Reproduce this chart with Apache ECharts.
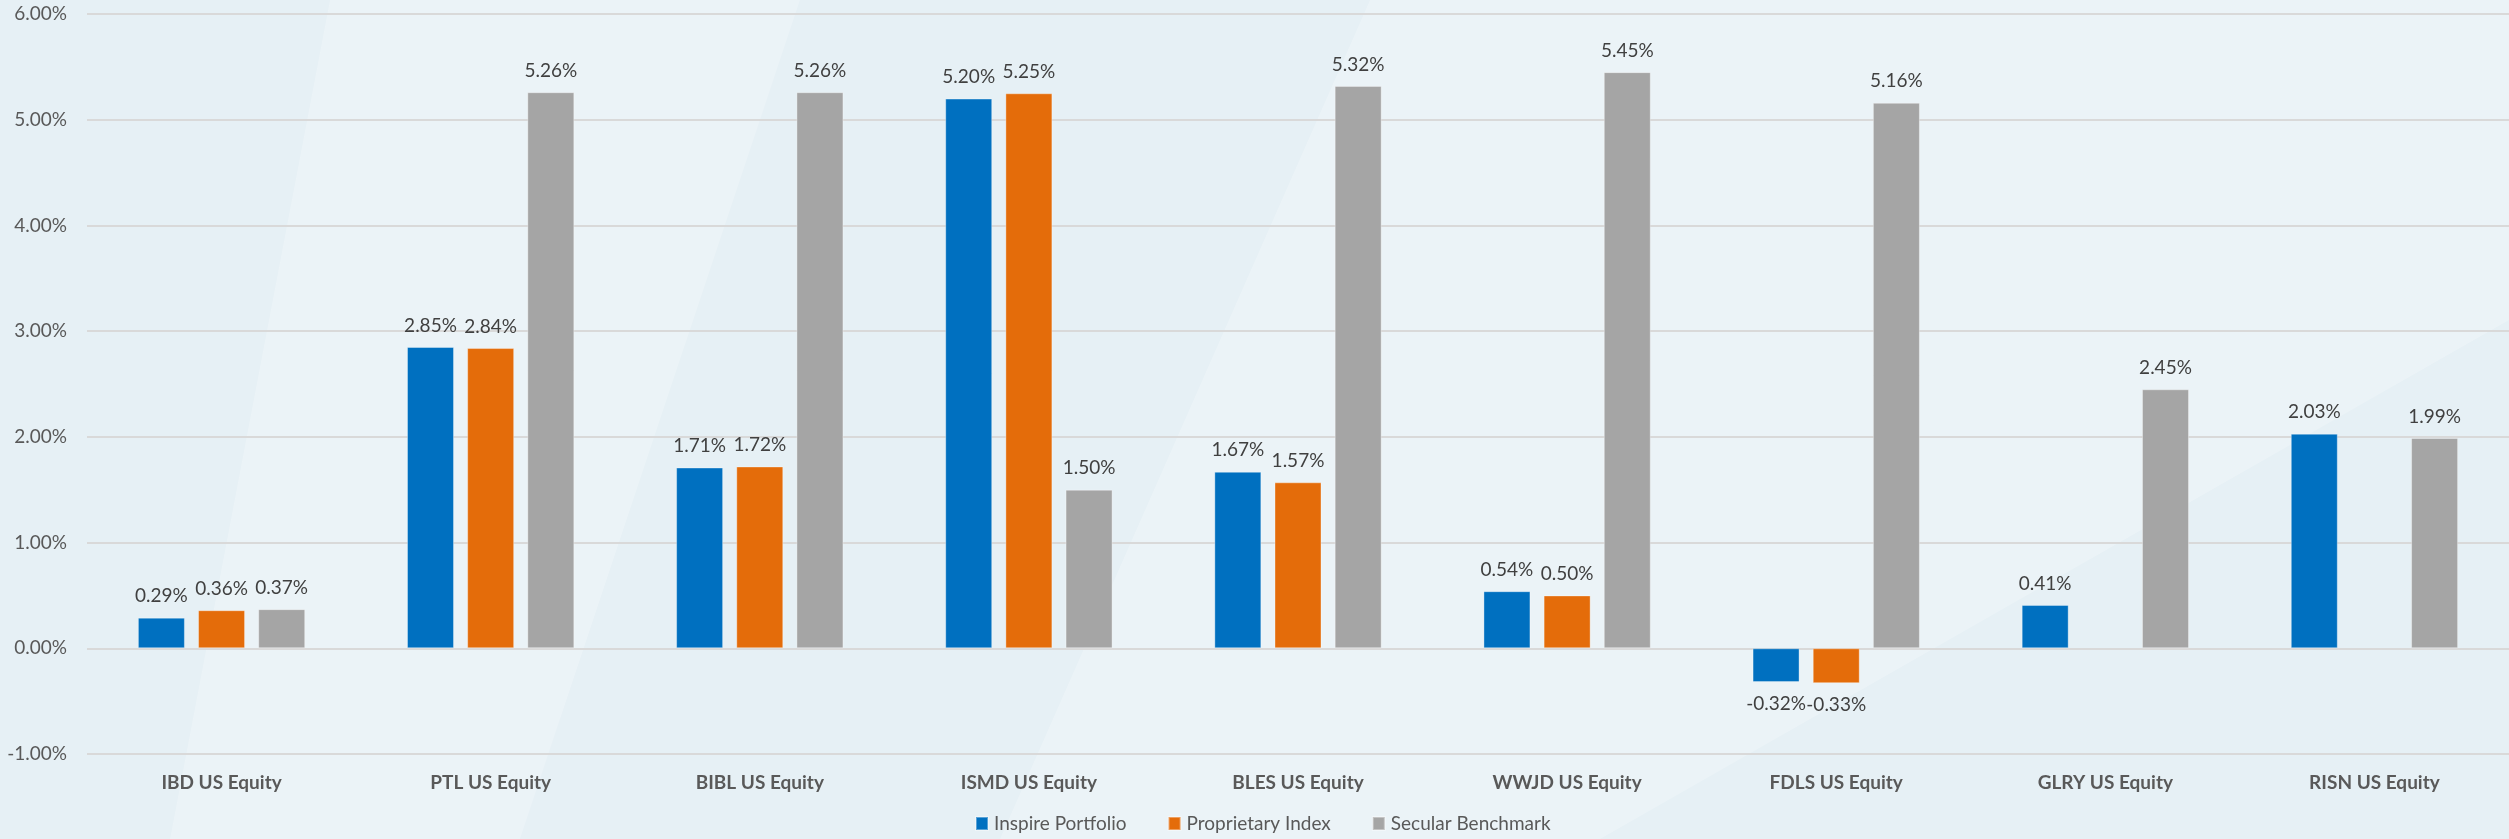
<!DOCTYPE html>
<html>
<head>
<meta charset="utf-8">
<script src="https://cdn.jsdelivr.net/npm/echarts@6/dist/echarts.min.js"></script>
<style>
html,body{margin:0;padding:0;background:#e6f0f5;}
#chart{width:2509px;height:839px;}
</style>
</head>
<body>
<div id="chart"></div>
<script>
const categories = ['IBD US Equity','PTL US Equity','BIBL US Equity','ISMD US Equity','BLES US Equity','WWJD US Equity','FDLS US Equity','GLRY US Equity','RISN US Equity'];
const inspirePortfolio = [0.29, 2.85, 1.71, 5.20, 1.67, 0.54, -0.32, 0.41, 2.03];
const proprietaryIndex = [0.36, 2.84, 1.72, 5.25, 1.57, 0.50, -0.33, null, null];
const secularBenchmark = [0.37, 5.26, 5.26, 1.50, 5.32, 5.45, 5.16, 2.45, 1.99];
const seriesNames = ['Inspire Portfolio','Proprietary Index','Secular Benchmark'];
const colors = ['#0070C0','#E46C0A','#A5A5A5'];

const FONT = 'Lato, "Open Sans", sans-serif';

function toItems(arr){
  return arr.map(v => {
    if (v === null) return '-';
    return { value: v, label: { position: v < 0 ? 'bottom' : 'top' } };
  });
}

function mkSeries(name, arr, color){
  return {
    name: name,
    type: 'bar',
    data: toItems(arr),
    barWidth: 47,
    barGap: '28%',
    itemStyle: { color: color, borderColor: 'rgba(255,255,255,0.35)', borderWidth: 1 },
    label: {
      show: true,
      distance: 12,
      fontFamily: FONT,
      fontSize: 19,
      color: '#404040',
      formatter: p => p.value.toFixed(2) + '%'
    }
  };
}

const chart = echarts.init(document.getElementById('chart'));
chart.setOption({
  backgroundColor: '#e6f0f5',
  animation: false,
  graphic: [
    { type: 'polygon', silent: true, z: -10, shape: { points: [[330,0],[800,0],[520,839],[170,839]] }, style: { fill: 'rgba(255,255,255,0.22)' } },
    { type: 'polygon', silent: true, z: -10, shape: { points: [[1370,0],[2509,0],[2509,320],[1600,839],[1000,839]] }, style: { fill: 'rgba(255,255,255,0.22)' } }
  ],
  grid: { left: 87, top: 14, width: 2438, height: 740, containLabel: false },
  legend: {
    data: seriesNames,
    left: 973,
    top: 812,
    padding: 2,
    itemWidth: 12,
    itemHeight: 13,
    itemGap: 41,
    icon: 'rect',
    textStyle: { fontFamily: FONT, fontSize: 19, color: '#595959', padding: [0,0,0,1] }
  },
  xAxis: {
    type: 'category',
    data: categories,
    axisLine: { show: false },
    axisTick: { show: false },
    axisLabel: { fontFamily: FONT, fontSize: 19, fontWeight: 'bold', color: '#595959', margin: 19 }
  },
  yAxis: {
    type: 'value',
    min: -1,
    max: 6,
    interval: 1,
    axisLine: { show: false },
    axisTick: { show: false },
    splitLine: { lineStyle: { color: '#d9d9d9', width: 2 } },
    axisLabel: { fontFamily: FONT, fontSize: 19, color: '#595959', margin: 20, formatter: v => v.toFixed(2) + '%' }
  },
  series: [
    mkSeries(seriesNames[0], inspirePortfolio, colors[0]),
    mkSeries(seriesNames[1], proprietaryIndex, colors[1]),
    mkSeries(seriesNames[2], secularBenchmark, colors[2])
  ]
});
</script>
</body>
</html>
